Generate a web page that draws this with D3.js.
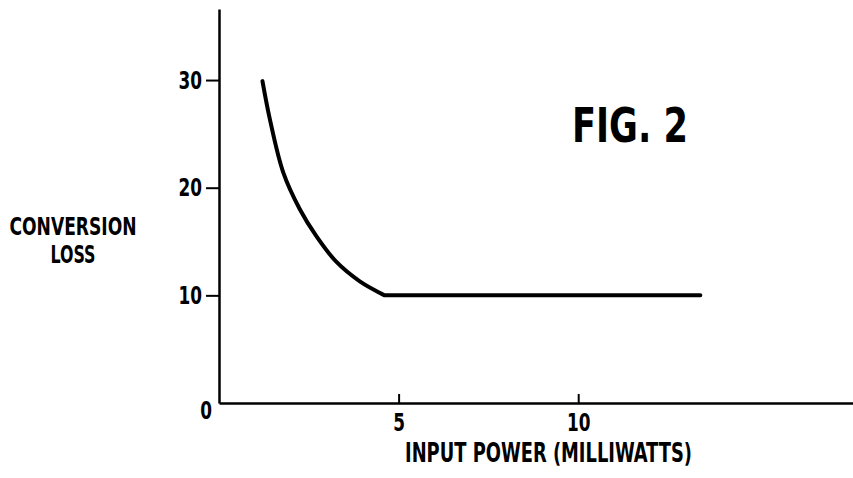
<!DOCTYPE html>
<html>
<head>
<meta charset="utf-8">
<script src="https://cdn.jsdelivr.net/npm/d3@7"></script>
<style>
  body { margin: 0; background: #fff; }
  text { font-family: "Liberation Sans Narrow", "DejaVu Sans Condensed", "Roboto", sans-serif; fill: #000; }
</style>
</head>
<body>
<div class="chart"></div>
<script>
// values
var inputPower     = [1.21, 1.42, 1.79, 2.25, 2.71, 3.27, 3.92, 4.61, 13.4];
var conversionLoss = [29.9, 26.3, 21.4, 18.0, 15.5, 13.1, 11.3, 10.0, 10.0];
var xTicks = [5, 10];
var yTicks = [0, 10, 20, 30];

var width = 853, height = 478;

var x = d3.scaleLinear()
  .domain([0, 17.65])
  .range([219, 853]);

var y = d3.scaleLinear()
  .domain([0, 36.6])
  .range([403, 9]);

var svg = d3.select(".chart").append("svg")
    .attr("width", width)
    .attr("height", height);

// squeeze text to look like the narrow lettering of the drawing
function narrow(sel, f) {
  sel.each(function () {
    var w = this.getComputedTextLength();
    d3.select(this)
      .attr("textLength", w * f)
      .attr("lengthAdjust", "spacingAndGlyphs");
  });
}

// x axis, ticks point up into the plot
var xAxis = d3.axisBottom(x)
  .tickValues(xTicks)
  .tickFormat(d3.format("d"))
  .tickSize(-9)
  .tickSizeOuter(0);

var gx = svg.append("g")
    .attr("transform", "translate(0," + y(0) + ")")
    .call(xAxis);
gx.select(".domain").attr("stroke-width", 2.5);
gx.selectAll(".tick line").attr("stroke-width", 2);
gx.selectAll(".tick text")
    .attr("y", 10)
    .style("font-size", "25px")
    .style("font-weight", "bold")
    .call(narrow, 0.75);

// y axis, ticks point left
var yAxis = d3.axisLeft(y)
  .tickValues(yTicks)
  .tickFormat(d3.format("d"))
  .tickSize(13)
  .tickPadding(4)
  .tickSizeOuter(0);

var gy = svg.append("g")
    .attr("transform", "translate(" + x(0) + ",0)")
    .call(yAxis);
gy.select(".domain").attr("stroke-width", 2.5);
gy.selectAll(".tick line").attr("stroke-width", 2);
gy.selectAll(".tick text")
    .style("font-size", "25px")
    .style("font-weight", "bold")
    .call(narrow, 0.75);
gy.selectAll(".tick").filter(function (d) { return d === 0; })
  .each(function () {
    d3.select(this).select("line").remove();
    d3.select(this).select("text").attr("x", -7).attr("dy", "0.6em");
  });

// the curve: smooth drop, then a straight run from the knee
var pts = inputPower.map(function (p, i) { return [x(p), y(conversionLoss[i])]; });
var knee = pts.length - 2;
var curve = d3.line().curve(d3.curveCatmullRom.alpha(0.5));

svg.append("path")
    .attr("fill", "none")
    .attr("stroke", "#000")
    .attr("stroke-width", 4)
    .attr("stroke-linecap", "round")
    .attr("stroke-linejoin", "round")
    .attr("d", curve(pts.slice(0, knee + 1)) + "L" + pts[pts.length - 1].join(","));

// labels
svg.append("text")
    .attr("x", 73).attr("y", 235)
    .attr("text-anchor", "middle")
    .style("font-size", "25px")
    .style("font-weight", "bold")
    .attr("textLength", 127)
    .attr("lengthAdjust", "spacingAndGlyphs")
    .text("CONVERSION");

svg.append("text")
    .attr("x", 73).attr("y", 263)
    .attr("text-anchor", "middle")
    .style("font-size", "25px")
    .style("font-weight", "bold")
    .attr("textLength", 45)
    .attr("lengthAdjust", "spacingAndGlyphs")
    .text("LOSS");

svg.append("text")
    .attr("x", 405).attr("y", 462)
    .style("font-size", "26px")
    .style("font-weight", "bold")
    .attr("textLength", 287)
    .attr("lengthAdjust", "spacingAndGlyphs")
    .text("INPUT POWER (MILLIWATTS)");

svg.append("text")
    .attr("x", 572).attr("y", 142)
    .style("font-size", "48px")
    .style("font-weight", "bold")
    .attr("textLength", 116)
    .attr("lengthAdjust", "spacingAndGlyphs")
    .text("FIG. 2");
</script>
</body>
</html>
